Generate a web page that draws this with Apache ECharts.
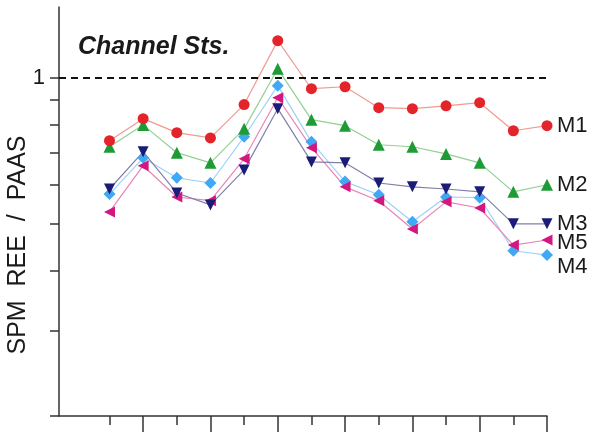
<!DOCTYPE html>
<html><head><meta charset="utf-8">
<script src="https://cdn.jsdelivr.net/npm/echarts@6/dist/echarts.min.js"></script>
<style>html,body{margin:0;padding:0;background:#fff}#c{width:602px;height:435px}</style>
</head><body><div id="c"></div>
<script>
var positions = [1,2,3,4,5,6,7,8,9,10,11,12,13,14];
var M1 = [0.741,0.823,0.770,0.751,0.880,1.193,0.949,0.958,0.867,0.863,0.875,0.888,0.777,0.796];
var M2 = [0.720,0.799,0.700,0.667,0.784,1.044,0.819,0.796,0.727,0.720,0.696,0.667,0.581,0.601];
var M3 = [0.589,0.703,0.578,0.546,0.645,0.863,0.670,0.667,0.606,0.595,0.589,0.581,0.499,0.499];
var M4 = [0.575,0.683,0.621,0.606,0.755,0.963,0.737,0.610,0.573,0.504,0.567,0.565,0.439,0.430];
var M5 = [0.528,0.658,0.567,0.557,0.680,0.909,0.717,0.595,0.557,0.487,0.554,0.538,0.451,0.462];
var yTicks = [0.2,0.3,0.4,0.5,0.6,0.7,0.8,0.9,1];
var yLabels = [1];
var majorX = [2,4,6,8,10,12,14];
var minorX = [1,3,5,7,9,11,13];
var title = 'Channel Sts.';
var yName = 'SPM  REE  /  PAAS';

function pairs(arr){ return arr.map(function(v,i){ return [positions[i], v]; }); }
var font = 'Liberation Sans, Arial, Helvetica, sans-serif';
function mk(name, data, color, lineColor, symbol, rot, size, labelOffset){
  return {
    name: name, type: 'line', data: pairs(data),
    symbol: symbol, symbolRotate: rot, symbolSize: size,
    itemStyle: {color: color},
    lineStyle: {color: lineColor, width: 1.2},
    endLabel: {show: true, formatter: '{a}', color: '#1a1a1a', fontSize: 22, fontFamily: font,
      distance: 10, offset: labelOffset || [0,0]},
    emphasis: {disabled: true}, animation: false
  };
}
var chart = echarts.init(document.getElementById('c'));
var s1 = mk('M1', M1, '#e3242b', '#f09a90', 'circle', 0, 11);
s1.markLine = {silent: true, symbol: 'none', label: {show: false},
  lineStyle: {color: '#111', type: [7,5], width: 2}, data: [{yAxis: 1}]};
chart.setOption({
  animation: false,
  grid: {left: 59, right: 55, top: 7, bottom: 19},
  xAxis: [
    {type: 'value', min: -0.5, max: 14, axisLine: {onZero: false, lineStyle: {color: '#333', width: 1.5}},
     axisTick: {show: true, customValues: majorX, length: 16, lineStyle: {color: '#333', width: 1.5}},
     axisLabel: {show: false}, splitLine: {show: false}},
    {type: 'value', min: -0.5, max: 14, position: 'bottom', axisLine: {show: false, onZero: false},
     axisTick: {show: true, customValues: minorX, length: 9, lineStyle: {color: '#333', width: 1.5}},
     axisLabel: {show: false}, splitLine: {show: false}}
  ],
  yAxis: {type: 'log', min: 0.2, max: 1.4,
    axisLine: {show: true, onZero: false, lineStyle: {color: '#333', width: 1.5}},
    axisTick: {show: true, customValues: yTicks, length: 9, lineStyle: {color: '#333', width: 1.5}},
    axisLabel: {show: true, customValues: yLabels, fontSize: 22, color: '#1a1a1a', fontFamily: font, margin: 14},
    splitLine: {show: false}},
  graphic: [
    {type: 'text', left: 78, top: 35, style: {text: title, fontSize: 25, fontWeight: 'bold', fontStyle: 'italic', fill: '#1a1a1a', fontFamily: font}},
    {type: 'text', x: 18, y: 245, rotation: Math.PI/2, style: {text: yName, fontSize: 25, fill: '#1a1a1a', fontFamily: font, align: 'center', verticalAlign: 'middle'}}
  ],
  series: [
    mk('M4', M4, '#3fa9f5', '#9fd2f7', 'diamond', 0, 12, [0, 12]),
    mk('M5', M5, '#d4177f', '#ea84b8', 'triangle', 90, 11, [0, 3]),
    mk('M3', M3, '#1b1b78', '#8080aa', 'triangle', 180, 11),
    mk('M2', M2, '#1e9b34', '#92d092', 'triangle', 0, 12),
    s1
  ]
});
</script></body></html>
